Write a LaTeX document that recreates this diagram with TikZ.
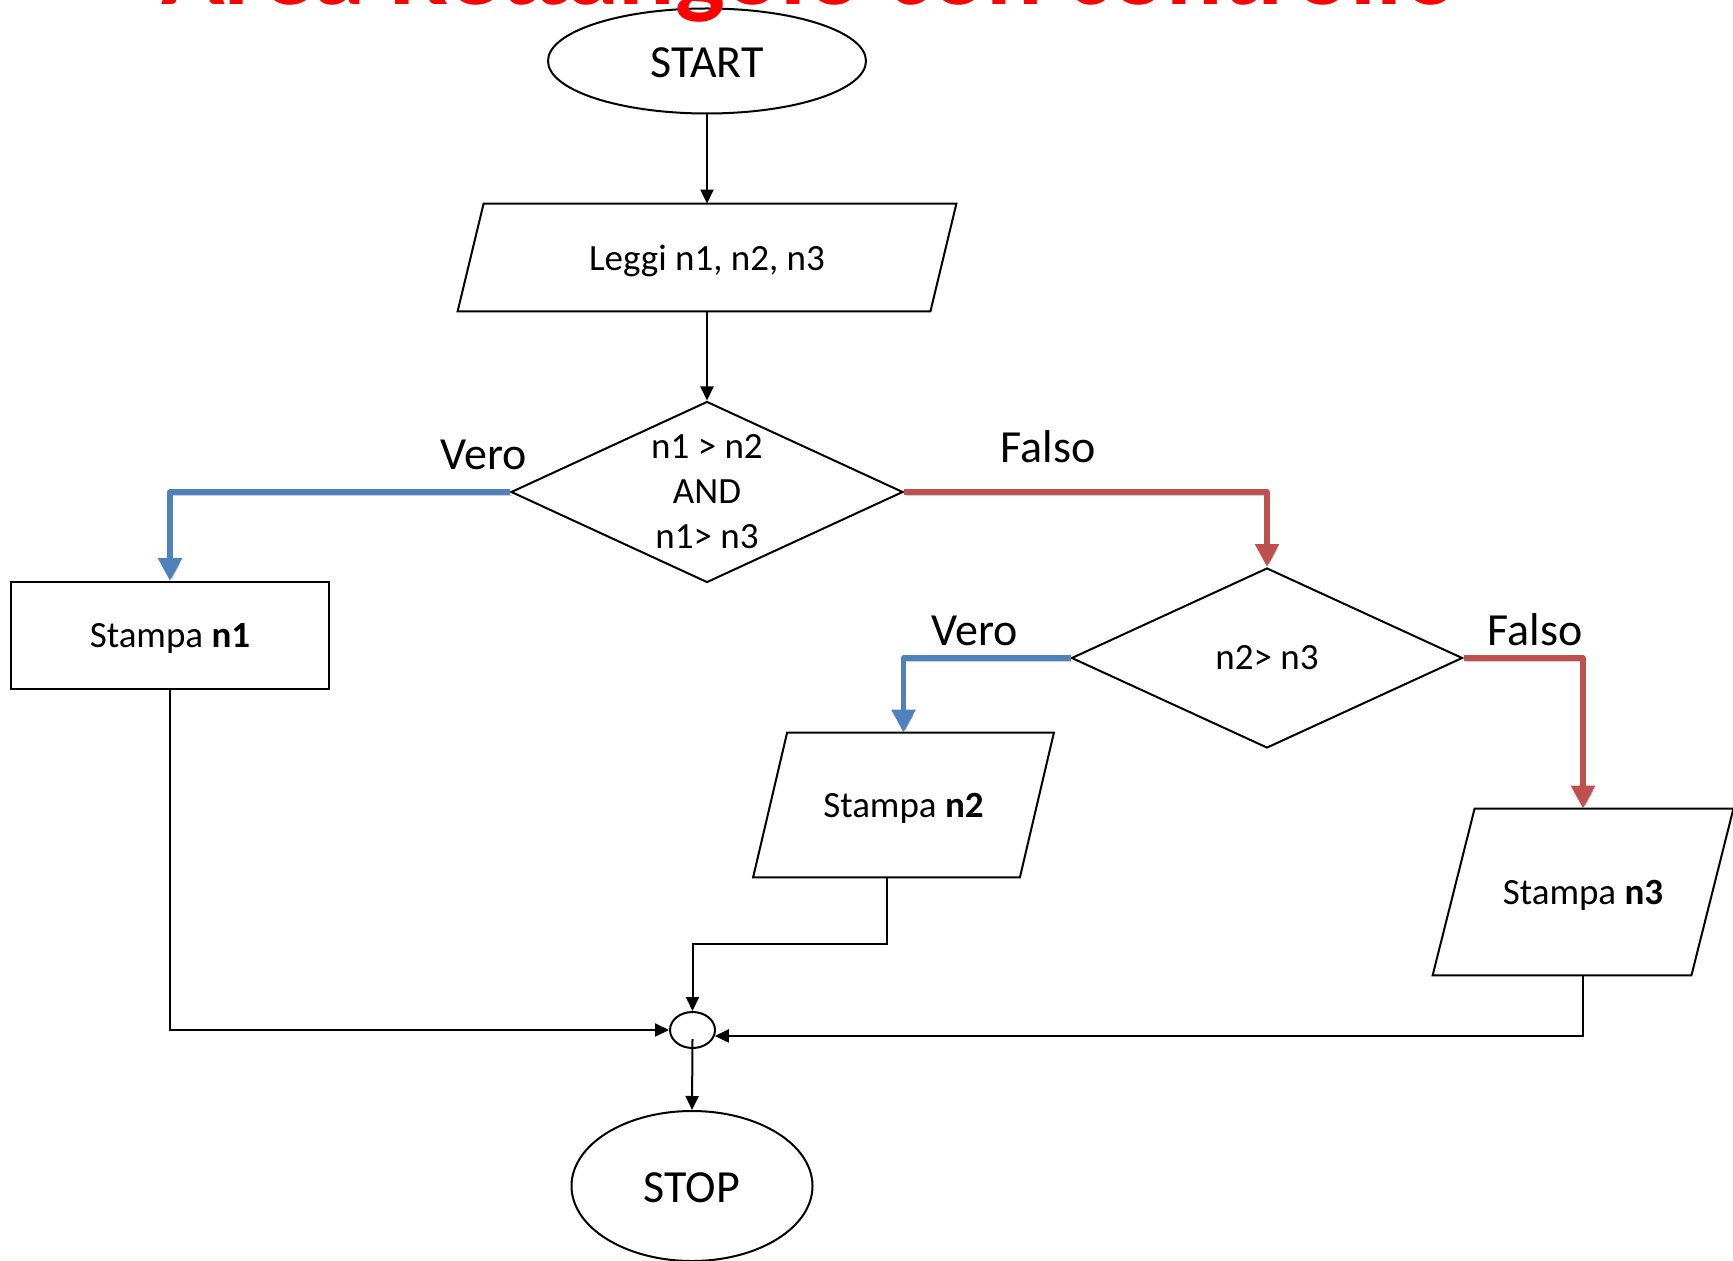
\documentclass[tikz,border=0pt]{standalone}
\usepackage{fontspec}
\setmainfont{Carlito}
\usetikzlibrary{shapes.geometric,arrows.meta,calc}
\definecolor{flowblue}{HTML}{4F81BD}
\definecolor{flowred}{HTML}{C0504D}
% parallelogram outline around a (borderless) rectangle node; #2 = half the slant
\newcommand\paraoutline[2]{%
  \draw[outline] ($(#1.north west)+(#2,0)$) -- ($(#1.north east)+(#2,0)$)
    -- ($(#1.south east)+(-#2,0)$) -- ($(#1.south west)+(-#2,0)$) -- cycle;}
\begin{document}
\begin{tikzpicture}[x=0.5pt,y=-0.5pt,
  outline/.style={draw=black, line width=1pt},
  bigtext/.style={font=\fontsize{23}{27}\selectfont},
  smalltext/.style={font=\fontsize{18.5}{22.5}\selectfont},
  terminal/.style={ellipse, outline, inner sep=0pt, bigtext, text height=17pt},
  decision/.style={diamond, outline, inner sep=-15pt, aspect=2.17, smalltext, align=center},
  procbox/.style={rectangle, outline, inner sep=0pt, smalltext, text depth=0pt},
  iobox/.style={rectangle, draw=none, inner sep=0pt, smalltext, text depth=0pt},
  flow/.style={line width=1pt, -{Triangle[width=6.5pt,length=7pt]}},
  colflow/.style={line width=2.75pt, line join=round,
    -{Triangle[width=11.5pt,length=11.5pt]},
    preaction={draw=black, opacity=0.18, transform canvas={xshift=1pt,yshift=-1.5pt}}},
  branch/.style={bigtext, inner sep=0pt}
]
\useasboundingbox (0,0) rectangle (1733,1261);
\clip (0,0) rectangle (1733,1261);

% terminals and blocks
\node[terminal, minimum width=159pt, minimum height=52.5pt] (start) at (707,61) {START};
\node[iobox, minimum width=236pt, minimum height=53.5pt] (leggi) at (707,257.5) {Leggi n1, n2, n3};
\paraoutline{leggi}{6.5pt}
\node[decision, minimum width=196pt, minimum height=90.5pt] (d1) at (707,492)
  {n1 > n2\\AND\\n1> n3};
\node[procbox, minimum width=159pt, minimum height=53.5pt] (n1) at (170,635.5) {Stampa \textbf{n1}};
\node[decision, minimum width=195.5pt, minimum height=90pt] (d2) at (1267,658) {n2> n3};
\node[iobox, minimum width=133pt, minimum height=72pt] (n2) at (903.5,805) {Stampa \textbf{n2}};
\paraoutline{n2}{8.5pt}
\node[iobox, minimum width=129pt, minimum height=83pt] (n3) at (1583,892) {Stampa \textbf{n3}};
\paraoutline{n3}{10.5pt}
\node[ellipse, outline, inner sep=0pt, minimum width=22.5pt, minimum height=18pt] (j) at (692.5,1030) {};
\node[terminal, minimum width=120.5pt, minimum height=75pt] (stop) at (692,1186) {STOP};

% branch labels
\node[branch] (v1) at (484,455) {Vero};
\node[branch] (f1) at (1048,447) {Falso};
\node[branch] (v2) at (975,631) {Vero};
\node[branch] (f2) at (1535,630) {Falso};

% plain connectors
\draw[flow] (start) -- (leggi);
\draw[flow] (leggi) -- (d1);
\draw[flow] (n1.south) |- (j.west);
\draw[flow] ($(n2.south)+(-8.5pt,0)$) -- ++(0,67) -| (j.north);
\draw[flow] (n3.south) |- (j.-15);
\draw[flow] (j.center) ++(0,9) -- (stop.north);

% decision branches
\draw[colflow, draw=flowblue] (d1.west) -| (n1.north);
\draw[colflow, draw=flowred] (d1.east) -| (d2.north);
\draw[colflow, draw=flowblue] (d2.west) -| (n2.north);
\draw[colflow, draw=flowred] (d2.east) -| (n3.north);

% heading
\node[font=\fontsize{52.5}{60}\selectfont\bfseries, text=red, anchor=base, inner sep=0pt] (title)
  at (810,5) {Area Rettangolo con controllo};
\end{tikzpicture}
\end{document}
